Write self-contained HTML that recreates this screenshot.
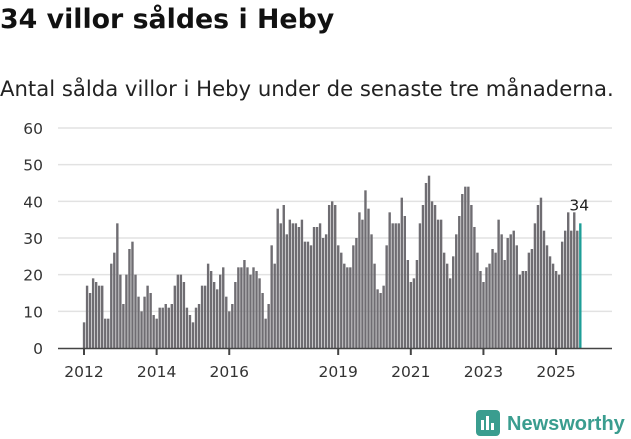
<!DOCTYPE html>
<html><head><meta charset="utf-8"><style>
body{margin:0;width:631px;height:439px;background:#fff;font-family:"DejaVu Sans",sans-serif;overflow:hidden;position:relative}
h1{position:absolute;left:0;top:4px;margin:0;font-size:26.8px;font-weight:bold;color:#111}
p{position:absolute;left:0;top:76px;margin:0;font-size:21.2px;color:#222}
svg{position:absolute;left:0;top:0}
</style></head><body>
<h1>34 villor såldes i Heby</h1>
<p>Antal sålda villor i Heby under de senaste tre månaderna.</p>
<svg id="c" width="631" height="439"></svg>
<script>
const values=[7,17,15,19,18,17,17,8,8,23,26,34,20,12,20,27,29,20,14,10,14,17,15,9,
8,11,11,12,11,12,17,20,20,18,11,9,7,11,12,17,17,23,21,18,16,20,22,14,10,12,18,22,22,24,22,
20,22,21,19,15,8,12,28,23,38,34,39,31,35,34,34,33,35,29,29,28,33,33,34,30,31,39,40,39,28,26,23,22,22,28,30,37,35,43,38,31,23,16,15,17,28,37,34,34,34,41,36,24,18,19,24,34,39,
45,47,40,39,35,35,26,23,19,25,31,36,42,44,44,39,33,26,21,18,22,23,27,26,35,31,24,30,31,32,28,20,21,21,26,27,34,39,41,32,28,25,23,21,20,29,32,37,32,37,32,34];
const yTicks=[0,10,20,30,40,50,60];
const xYears=[2012,2014,2016,2019,2021,2023,2025];
const NS="http://www.w3.org/2000/svg",svg=document.getElementById('c');
const y=v=>348-v*220/60;
const xm=i=>84+i*3.026;
function el(t,a,txt){const e=document.createElementNS(NS,t);for(const k in a)e.setAttribute(k,a[k]);if(txt!=null)e.textContent=txt;svg.appendChild(e);return e;}
yTicks.forEach(t=>{
  if(t>0){const g=el('line',{x1:58,x2:612,y1:y(t),y2:y(t),stroke:'#e2e2e2','stroke-width':1.5});
  
  }
  const l=el('text',{x:43,y:y(t)+6,'text-anchor':'end','font-size':15.5,fill:'#333','font-family':'DejaVu Sans, sans-serif'},t);
  
  
});
values.forEach((v,i)=>{
  const last=i===values.length-1;
  const r=el('rect',{x:xm(i)-1.15,y:y(v),width:2.4,height:348-y(v),fill:last?'#1e9e97':'#6f6d72'});
  
  
});
const lv=el('text',{x:xm(values.length-1)-1,y:y(values[values.length-1])-13,'text-anchor':'middle','font-size':15.5,fill:'#222','font-family':'DejaVu Sans, sans-serif'},values[values.length-1]);


const ax=el('line',{x1:58,x2:612,y1:348.5,y2:348.5,stroke:'#444','stroke-width':1.5});


xYears.forEach(yr=>{
  const xx=xm((yr-2012)*12);
  const t=el('line',{x1:xx,x2:xx,y1:348,y2:355,stroke:'#444','stroke-width':2});
  
  
  const l=el('text',{x:xx,y:377,'text-anchor':'middle','font-size':15.5,fill:'#333','font-family':'DejaVu Sans, sans-serif'},yr);
  
  
});
</script>
<svg width="631" height="439" style="position:absolute;left:0;top:0">
<rect x="476" y="410" width="24" height="26" rx="4" fill="#3a9d8f"/>
<rect x="481" y="420" width="3" height="10" fill="#fff"/><rect x="486" y="416" width="3" height="14" fill="#fff"/><rect x="491" y="423" width="3" height="7" fill="#fff"/>
<text x="507" y="430" font-size="20" font-weight="bold" fill="#3a9d8f" font-family="Liberation Sans, sans-serif">Newsworthy</text>
</svg>
</body></html>
